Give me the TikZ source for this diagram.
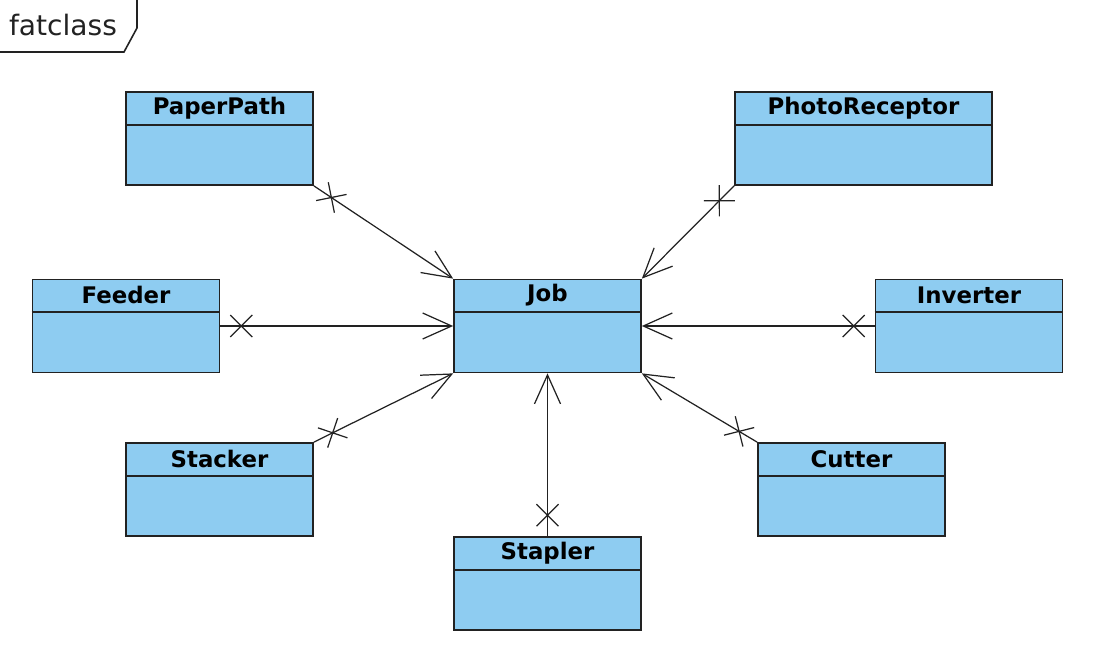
\documentclass[tikz,border=0pt]{standalone}
\usepackage{fontspec}
\setmainfont{DejaVu Sans}
\usetikzlibrary{arrows.meta, decorations.markings, positioning}
\definecolor{classblue}{RGB}{142,204,241}
\definecolor{lineblack}{RGB}{34,34,34}

\begin{document}
\begin{tikzpicture}[
    x=0.02cm, y=-0.02cm,
    classbox/.style={rectangle, draw=lineblack, line width=1pt, fill=classblue, minimum width=3.74cm, minimum height=1.86cm, inner sep=0pt},
    classname/.style={anchor=north, minimum height=0.66cm, inner sep=0pt, font=\fontsize{13}{15}\selectfont\bfseries},
    assoc/.style={line width=0.7pt, draw=lineblack, -{Straight Barb[length=0.58cm, width=0.52cm]},
        postaction={decorate}, decoration={markings, mark=at position 0.42cm with {\draw[-, line width=0.7pt, lineblack] (-0.22cm,-0.22cm) -- (0.22cm,0.22cm) (-0.22cm,0.22cm) -- (0.22cm,-0.22cm);}}}
]
    \useasboundingbox (0,0) rectangle (1100,666);

    % frame label
    \node[anchor=base, font=\fontsize{16}{19}\selectfont, text=lineblack] (frametitle) at (63,35) {fatclass};
    \draw[line width=0.9pt, lineblack] (137,0) -- (137,28) -- (124,52) -- (0,52);

    % classes
    \node[classbox] (job) at (547.5,326) {};
    \node[classbox] (paperpath) at (219.5,138.5) {};
    \node[classbox, minimum width=5.14cm] (photo) at (863.5,138.5) {};
    \node[classbox] (feeder) at (126,326) {};
    \node[classbox] (inverter) at (969,326) {};
    \node[classbox] (stacker) at (219.5,489.5) {};
    \node[classbox] (cutter) at (851.5,489.5) {};
    \node[classbox] (stapler) at (547.5,583.5) {};

    \foreach \n/\t in {job/Job, paperpath/PaperPath, photo/PhotoReceptor, feeder/Feeder,
                       inverter/Inverter, stacker/Stacker, cutter/Cutter, stapler/Stapler} {
        \node[classname] (\n-name) at (\n.north) {\t};
        \draw[line width=1pt, lineblack] (\n-name.south -| \n.west) -- (\n-name.south -| \n.east);
    }

    % associations
    \draw[assoc] (paperpath.south east) -- (job.north west);
    \draw[assoc] (photo.south west) -- (job.north east);
    \draw[assoc] (feeder.east) -- (job.west);
    \draw[assoc] (inverter.west) -- (job.east);
    \draw[assoc] (stacker.north east) -- (job.south west);
    \draw[assoc] (cutter.north west) -- (job.south east);
    \draw[assoc] (stapler.north) -- (job.south);

\end{tikzpicture}
\end{document}
